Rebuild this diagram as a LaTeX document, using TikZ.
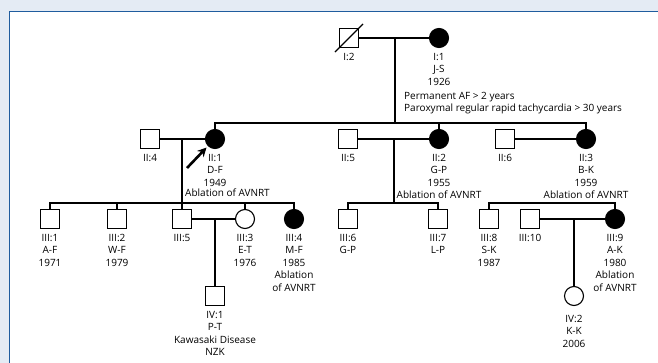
\documentclass[tikz,border=0pt]{standalone}
\usepackage{fontspec}
\setmainfont{Open Sans}
\usetikzlibrary{arrows.meta,positioning}
\definecolor{panelgray}{HTML}{E4EBF4}
\definecolor{rimblue}{HTML}{1F5C9E}

\begin{document}
\begin{tikzpicture}[x=1pt, y=-1pt,
  node distance=5pt,
  male/.style={draw, rectangle, minimum size=18.5pt, inner sep=0pt, line width=1.1pt},
  female/.style={draw, circle, minimum size=19pt, inner sep=0pt, line width=1.1pt},
  aff/.style={fill=black},
  lbl/.style={align=center, inner sep=0pt, font=\fontsize{10}{12.5}\selectfont},
  tie/.style={line width=1.1pt},
  arr/.style={-{Stealth[length=9pt, width=9pt]}, line width=2.6pt}]
\useasboundingbox (0,0) rectangle (658,363);
\fill[panelgray] (0,0) rectangle (658,363);
\fill[white] (10,12) rectangle (658,363);
\draw[rimblue, line width=1.5pt] (9.5,363) -- (9.5,11.5) -- (658,11.5);

\node[male] (i2) at (349,38) {};
\node[female, aff] (i1) at (439,38) {};
\node[male] (ii4) at (150,139) {};
\node[female, aff] (ii1) at (215,139) {};
\node[male] (ii5) at (348,139) {};
\node[female, aff] (ii2) at (439,139) {};
\node[male] (ii6) at (505,139) {};
\node[female, aff] (ii3) at (586,139) {};
\node[male] (iii1) at (50,219) {};
\node[male] (iii2) at (117,219) {};
\node[male] (iii5) at (182,219) {};
\node[female] (iii3) at (245,219) {};
\node[female, aff] (iii4) at (294,219) {};
\node[male] (iii6) at (348,219) {};
\node[male] (iii7) at (438,219) {};
\node[male] (iii8) at (489,219) {};
\node[male] (iii10) at (530,219) {};
\node[female, aff] (iii9) at (615,219) {};
\node[male] (iv1) at (215,296) {};
\node[female] (iv2) at (574,296) {};

\node[lbl, below=of i2] (i2l) {I:2};
\node[lbl, below=of i1] (i1l) {I:1\\J-S\\1926};
\node[lbl, anchor=north west, align=left] (notes) at (404,92)
  {Permanent AF > 2 years\\Paroxymal regular rapid tachycardia > 30 years};
\node[lbl, below=of ii4] (ii4l) {II:4};
\node[lbl, below=of ii1] (ii1l) {II:1\\D-F\\1949};
\node[lbl, anchor=north west] (ii1a) at (185,189) {Ablation of AVNRT};
\node[lbl, below=of ii5] (ii5l) {II:5};
\node[lbl, below=of ii2] (ii2l) {II:2\\G-P\\1955\\Ablation of AVNRT};
\node[lbl, below=of ii6] (ii6l) {II:6};
\node[lbl, below=of ii3] (ii3l) {II:3\\B-K\\1959\\Ablation of AVNRT};
\node[lbl, below=of iii1] (iii1l) {III:1\\A-F\\1971};
\node[lbl, below=of iii2] (iii2l) {III:2\\W-F\\1979};
\node[lbl, below=of iii5] (iii5l) {III:5};
\node[lbl, below=of iii3] (iii3l) {III:3\\E-T\\1976};
\node[lbl, below=of iii4] (iii4l) {III:4\\M-F\\1985\\Ablation\\of AVNRT};
\node[lbl, below=of iii6] (iii6l) {III:6\\G-P};
\node[lbl, below=of iii7] (iii7l) {III:7\\L-P};
\node[lbl, below=of iii8] (iii8l) {III:8\\S-K\\1987};
\node[lbl, below=of iii10] (iii10l) {III:10};
\node[lbl, below=of iii9] (iii9l) {III:9\\A-K\\1980\\Ablation\\of AVNRT};
\node[lbl, below=of iv1] (iv1l) {IV:1\\P-T\\Kawasaki Disease\\NZK};
\node[lbl, below=9pt of iv2] (iv2l) {IV:2\\K-K\\2006};

\coordinate (m1) at (395,38);
\coordinate (s1) at (395,123);
\coordinate (m2) at (182,139);
\coordinate (s2) at (182,203);
\coordinate (m3) at (394,139);
\coordinate (s3) at (394,203);
\coordinate (s4) at (552,203);
\coordinate (m4) at (215,219);
\coordinate (m5) at (574,219);

\draw[tie, shorten <=-6pt, shorten >=-6pt] (i2.south west) -- (i2.north east);
\draw[tie] (i2) -- (i1);
\draw[tie] (m1) -- (s1);
\draw[tie] (ii1.north) |- (s1) -| (ii3.north);
\draw[tie] (s1) -| (ii2.north);
\draw[tie] (ii4) -- (ii1);
\draw[tie] (ii5) -- (ii2);
\draw[tie] (ii6) -- (ii3);
\draw[tie] (m2) -- (s2);
\draw[tie] (iii1.north) |- (s2) -| (iii4.north);
\draw[tie] (s2) -| (iii2.north);
\draw[tie] (s2) -| (iii5.north);
\draw[tie] (s2) -| (iii3.north);
\draw[tie] (m3) -- (s3);
\draw[tie] (iii6.north) |- (s3) -| (iii7.north);
\draw[tie] (iii8.north) |- (s4) -| (iii9.north);
\draw[tie] (iii5) -- (iii3);
\draw[tie] (iii10) -- (iii9);
\draw[tie] (m4) -- (iv1);
\draw[tie] (m5) -- (iv2);
\coordinate (pa) at (187,168);
\draw[arr, shorten >=2pt] (pa) -- (ii1.south west);
\end{tikzpicture}
\end{document}
